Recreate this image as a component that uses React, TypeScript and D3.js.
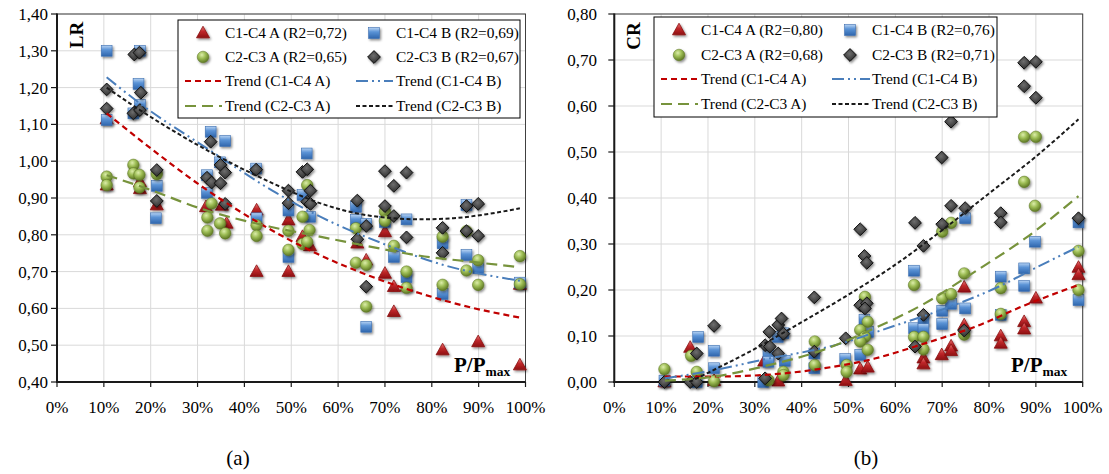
import React from 'react';
import * as d3 from 'd3';

type Pt = [number, number];

const xTickValues = [0, 10, 20, 30, 40, 50, 60, 70, 80, 90, 100];
const lrTickValues = [0.4, 0.5, 0.6, 0.7, 0.8, 0.9, 1.0, 1.1, 1.2, 1.3, 1.4];
const crTickValues = [0, 0.1, 0.2, 0.3, 0.4, 0.5, 0.6, 0.7, 0.8];

// ---------- LR panel (a) ----------
const lrC1C4A: Pt[] = [
  [10.6, 1.115], [10.6, 0.935], [17.7, 0.944], [17.7, 0.925], [21.3, 0.881], [31.8, 0.876], [35.2, 0.88],
  [36.2, 0.831], [42.6, 0.867], [42.6, 0.70], [49.4, 0.84], [49.4, 0.70], [52.4, 0.795], [54.0, 0.77],
  [64.1, 0.777], [66.0, 0.731], [70.0, 0.808], [70.0, 0.695], [71.9, 0.659], [71.9, 0.591], [74.6, 0.66],
  [82.3, 0.487], [89.9, 0.509], [98.8, 0.665], [98.8, 0.446],
];
const lrC1C4B: Pt[] = [
  [10.6, 1.30], [17.7, 1.30], [17.4, 1.21], [10.6, 1.112], [16.3, 1.13], [17.7, 1.153], [21.3, 0.933],
  [21.1, 0.845], [32.8, 1.08], [35.9, 1.055], [34.8, 0.997], [32.0, 0.962], [32.0, 0.914], [42.5, 0.98],
  [42.6, 0.845], [49.4, 0.866], [49.4, 0.74], [53.3, 1.021], [52.4, 0.908], [54.0, 0.849], [63.8, 0.876],
  [63.8, 0.84], [66.0, 0.83], [66.0, 0.55], [70.0, 0.835], [71.9, 0.74], [74.6, 0.842], [74.6, 0.685],
  [82.3, 0.777], [82.3, 0.639], [87.4, 0.881], [87.4, 0.745], [89.9, 0.709], [98.8, 0.67],
];
const lrC2C3A: Pt[] = [
  [10.6, 0.958], [10.6, 0.935], [16.3, 0.99], [16.3, 0.967], [17.6, 0.963], [17.6, 0.929], [21.3, 0.965],
  [33.0, 0.885], [32.1, 0.847], [32.1, 0.811], [34.8, 0.831], [35.9, 0.804], [42.6, 0.826], [42.6, 0.797],
  [49.4, 0.811], [49.4, 0.759], [52.4, 0.849], [53.4, 0.935], [53.9, 0.813], [52.4, 0.775], [53.4, 0.781],
  [63.8, 0.818], [63.8, 0.724], [66.0, 0.718], [66.0, 0.605], [70.0, 0.863], [70.0, 0.838], [71.9, 0.77],
  [74.6, 0.70], [74.6, 0.656], [82.3, 0.795], [82.3, 0.664], [87.4, 0.81], [87.4, 0.703], [89.9, 0.731],
  [89.9, 0.664], [98.8, 0.742], [98.8, 0.666],
];
const lrC2C3B: Pt[] = [
  [16.5, 1.29], [17.6, 1.295], [17.9, 1.186], [10.6, 1.195], [10.6, 1.143], [16.3, 1.13], [17.7, 1.139],
  [21.3, 0.976], [21.3, 0.892], [32.8, 1.053], [34.9, 0.99], [35.9, 0.969], [32.0, 0.955], [33.0, 0.942],
  [34.9, 0.94], [35.9, 0.884], [42.5, 0.977], [49.4, 0.92], [49.4, 0.886], [52.4, 0.971], [53.4, 0.978],
  [54.1, 0.92], [53.4, 0.89], [54.1, 0.884], [64.1, 0.893], [64.1, 0.788], [66.0, 0.824], [66.0, 0.659],
  [70.0, 0.973], [74.6, 0.969], [71.9, 0.933], [70.0, 0.878], [71.9, 0.851], [74.6, 0.793], [82.3, 0.819],
  [82.3, 0.751], [87.4, 0.878], [89.9, 0.884], [87.4, 0.81], [89.9, 0.797],
];
const lrTrendC1C4A: Pt[] = [[10.6, 1.13], [20, 1.035], [30.5, 0.935], [42.6, 0.836], [56.1, 0.745], [66.8, 0.688], [77.5, 0.641], [88.2, 0.603], [98.8, 0.575]];
const lrTrendC1C4B: Pt[] = [[10.6, 1.228], [17.7, 1.157], [32, 1.035], [46.9, 0.913], [55.4, 0.854], [70.4, 0.772], [82.5, 0.718], [98.8, 0.675]];
const lrTrendC2C3A: Pt[] = [[10.6, 0.962], [19.1, 0.926], [30.5, 0.872], [45.5, 0.822], [56.1, 0.795], [66.8, 0.768], [77.5, 0.743], [88.2, 0.727], [98.8, 0.712]];
const lrTrendC2C3B: Pt[] = [[10.6, 1.20], [17.7, 1.139], [32, 1.03], [46.9, 0.935], [56.1, 0.886], [66.8, 0.852], [77.5, 0.842], [84.6, 0.845], [91.7, 0.856], [98.8, 0.872]];

// ---------- CR panel (b) ----------
const crC1C4A: Pt[] = [
  [10.7, 0.0], [16.2, 0.075], [21.3, 0.003], [32.0, 0.045], [35.0, 0.002], [49.4, 0.003], [52.5, 0.028],
  [54.1, 0.032], [66.0, 0.052], [66.0, 0.039], [69.9, 0.059], [71.9, 0.078], [71.9, 0.068], [74.7, 0.124],
  [74.7, 0.206], [82.5, 0.10], [82.5, 0.084], [87.5, 0.131], [87.5, 0.115], [90.0, 0.182], [99.1, 0.249],
  [99.1, 0.233],
];
const crC1C4B: Pt[] = [
  [10.7, 0.003], [17.9, 0.098], [17.6, 0.0], [21.3, 0.068], [21.3, 0.03], [31.8, 0.0], [32.9, 0.059],
  [32.9, 0.044], [34.9, 0.098], [36.1, 0.106], [36.4, 0.046], [42.7, 0.062], [42.7, 0.03], [49.3, 0.05],
  [52.5, 0.059], [53.4, 0.135], [54.2, 0.109], [64.0, 0.242], [64.0, 0.117], [66.0, 0.136], [66.0, 0.115],
  [70.0, 0.155], [70.0, 0.126], [71.9, 0.17], [74.9, 0.356], [74.9, 0.16], [82.5, 0.229], [82.5, 0.146],
  [87.5, 0.247], [87.5, 0.209], [89.8, 0.305], [99.1, 0.347], [99.1, 0.178],
];
const crC2C3A: Pt[] = [
  [10.7, 0.028], [16.4, 0.057], [17.6, 0.022], [21.3, 0.002], [32.9, 0.004], [36.1, 0.022], [36.1, 0.015],
  [42.8, 0.088], [42.8, 0.037], [49.6, 0.037], [49.6, 0.022], [53.5, 0.185], [54.1, 0.131], [52.5, 0.113],
  [53.5, 0.098], [52.5, 0.088], [54.1, 0.07], [64.0, 0.211], [64.0, 0.098], [66.0, 0.098], [66.0, 0.071],
  [70.0, 0.327], [71.9, 0.346], [70.0, 0.182], [71.9, 0.191], [74.7, 0.236], [74.7, 0.103], [82.5, 0.204],
  [82.5, 0.148], [87.5, 0.533], [90.0, 0.533], [87.5, 0.435], [89.8, 0.383], [99.1, 0.285], [99.1, 0.2],
];
const crC2C3B: Pt[] = [
  [10.7, 0.0], [16.2, 0.0], [17.6, 0.062], [17.6, 0.0], [21.3, 0.122], [32.2, 0.08], [33.2, 0.077],
  [33.1, 0.109], [35.0, 0.124], [35.7, 0.138], [36.1, 0.105], [35.0, 0.062], [32.2, 0.008], [42.7, 0.184],
  [42.7, 0.066], [49.4, 0.095], [52.5, 0.332], [53.4, 0.274], [53.9, 0.259], [52.5, 0.167], [53.9, 0.171],
  [53.5, 0.16], [64.2, 0.346], [66.0, 0.296], [66.0, 0.146], [64.2, 0.077], [70.0, 0.343], [69.9, 0.488],
  [71.9, 0.566], [71.9, 0.383], [74.9, 0.378], [74.7, 0.112], [82.5, 0.367], [82.5, 0.347], [87.5, 0.694],
  [90.0, 0.696], [87.5, 0.643], [90.0, 0.618], [99.1, 0.356],
];
const crTrendC1C4A: Pt[] = [[10.8, 0.012], [21.5, 0.012], [31.5, 0.015], [44.9, 0.03], [55.6, 0.051], [66.3, 0.084], [77, 0.12], [87.7, 0.167], [99.1, 0.211]];
const crTrendC1C4B: Pt[] = [[10.8, 0.008], [21.5, 0.026], [31.5, 0.048], [47.1, 0.08], [59.2, 0.12], [69.9, 0.157], [82, 0.207], [90.5, 0.251], [99.1, 0.294]];
const crTrendC2C3A: Pt[] = [[10.8, 0.003], [21.5, 0.012], [31.5, 0.033], [44.9, 0.071], [55.6, 0.117], [66.3, 0.171], [77, 0.24], [87.7, 0.312], [99.1, 0.404]];
const crTrendC2C3B: Pt[] = [[16, 0.0], [20, 0.02], [30, 0.072], [40, 0.13], [50, 0.19], [60, 0.255], [70, 0.33], [80, 0.41], [90, 0.49], [99.1, 0.571]];

const lrLegendLabels = ['C1-C4 A (R2=0,72)', 'C1-C4 B (R2=0,69)', 'C2-C3 A (R2=0,65)', 'C2-C3 B (R2=0,67)'];
const crLegendLabels = ['C1-C4 A (R2=0,80)', 'C1-C4 B (R2=0,76)', 'C2-C3 A (R2=0,68)', 'C2-C3 B (R2=0,71)'];
const trendLabels = ['Trend (C1-C4 A)', 'Trend (C1-C4 B)', 'Trend (C2-C3 A)', 'Trend (C2-C3 B)'];

const FONT = '"Liberation Serif", "Times New Roman", serif';

type Kind = 'tri' | 'sq' | 'cir' | 'dia';
const KINDS: Kind[] = ['tri', 'sq', 'cir', 'dia'];

const TREND_STYLES = [
  { stroke: '#c00000', width: 2.2, dash: '6,4' },
  { stroke: '#4a7ebb', width: 2, dash: '12,4,2,4,2,4' },
  { stroke: '#77933c', width: 2.2, dash: '11,6' },
  { stroke: '#1a1a1a', width: 2, dash: '4,2.5' },
];

function Marker({ kind, x, y, p }: { kind: Kind; x: number; y: number; p: string }) {
  const t = `translate(${x},${y})`;
  if (kind === 'tri')
    return <path d="M0,-6.8L6.5,4.8L-6.5,4.8Z" transform={t} fill={`url(#${p}gTri)`} stroke="#8a1010" strokeWidth={0.8} filter={`url(#${p}sh)`} />;
  if (kind === 'sq')
    return <rect x={-5.4} y={-5.4} width={10.8} height={10.8} transform={t} fill={`url(#${p}gSq)`} stroke="#3a6db0" strokeWidth={0.6} filter={`url(#${p}sh)`} />;
  if (kind === 'cir')
    return <circle r={5.8} transform={t} fill={`url(#${p}gCir)`} stroke="#5c7424" strokeWidth={0.5} filter={`url(#${p}sh)`} />;
  return <path d="M0,-6.4L6.4,0L0,6.4L-6.4,0Z" transform={t} fill={`url(#${p}gDia)`} stroke="#111" strokeWidth={1} filter={`url(#${p}sh)`} />;
}

function Defs({ p }: { p: string }) {
  return (
    <defs>
      <filter id={`${p}sh`} x="-50%" y="-50%" width="200%" height="200%">
        <feDropShadow dx={1.3} dy={1.6} stdDeviation={0.9} floodColor="#000" floodOpacity={0.45} />
      </filter>
      <linearGradient id={`${p}gTri`} x1="0" y1="0" x2="0" y2="1">
        <stop offset="0%" stopColor="#e87a7a" />
        <stop offset="45%" stopColor="#c0282a" />
        <stop offset="100%" stopColor="#8e0f12" />
      </linearGradient>
      <linearGradient id={`${p}gSq`} x1="0" y1="0" x2="0" y2="1">
        <stop offset="0%" stopColor="#b7d3f3" />
        <stop offset="40%" stopColor="#5b93d6" />
        <stop offset="100%" stopColor="#2f66ad" />
      </linearGradient>
      <radialGradient id={`${p}gCir`} cx="40%" cy="32%" r="70%">
        <stop offset="0%" stopColor="#dcedaa" />
        <stop offset="45%" stopColor="#9dbd55" />
        <stop offset="100%" stopColor="#5a7420" />
      </radialGradient>
      <radialGradient id={`${p}gDia`} cx="45%" cy="40%" r="65%">
        <stop offset="0%" stopColor="#6e6e6e" />
        <stop offset="100%" stopColor="#262626" />
      </radialGradient>
    </defs>
  );
}

interface PanelCfg {
  p: string;
  x0: number; x1: number; yTop: number; yBot: number;
  yDomain: [number, number];
  yTicks: number[];
  yLabelRight: number;
  tickLen: number;
  series: Pt[][];
  trends: Pt[][];
  legendLabels: string[];
  legendBox: { x: number; y: number; w: number; h: number };
  rows: number[];
  col1: { marker: number; text: number; line: [number, number] };
  col2: { marker: number; text: number; line: [number, number] };
  axisName: string;
  axisNamePos: [number, number];
  pmaxPos: [number, number];
  caption: string;
  captionX: number;
}

const LEG_FS = 15.4;
const TICK_FS = 17;

function Panel({ c }: { c: PanelCfg }) {
  const xs = d3.scaleLinear().domain([0, 100]).range([c.x0, c.x1]);
  const ys = d3.scaleLinear().domain(c.yDomain).range([c.yBot, c.yTop]);
  const line = d3.line<Pt>().x((d) => xs(d[0])).y((d) => ys(d[1])).curve(d3.curveMonotoneX);
  const fmt = (v: number) => d3.format('.2f')(v).replace('.', ',');
  const clipId = `${c.p}clip`;
  const lb = c.legendBox;
  const legendItem = (i: number) => {
    const col = i % 2 === 0 ? c.col1 : c.col2;
    const row = c.rows[Math.floor(i / 2)];
    return (
      <g key={`lm${i}`}>
        <Marker kind={KINDS[i]} x={col.marker} y={row} p={c.p} />
        <text x={col.text} y={row} dy="0.35em" fontSize={LEG_FS} fontFamily={FONT} fill="#000">{c.legendLabels[i]}</text>
      </g>
    );
  };
  const legendTrend = (i: number) => {
    const col = i % 2 === 0 ? c.col1 : c.col2;
    const row = c.rows[2 + Math.floor(i / 2)];
    const st = TREND_STYLES[i];
    return (
      <g key={`lt${i}`}>
        <line x1={col.line[0]} x2={col.line[1]} y1={row} y2={row} stroke={st.stroke} strokeWidth={st.width} strokeDasharray={st.dash} />
        <text x={col.text} y={row} dy="0.35em" fontSize={LEG_FS} fontFamily={FONT} fill="#000">{trendLabels[i]}</text>
      </g>
    );
  };
  return (
    <g>
      <Defs p={c.p} />
      <clipPath id={clipId}>
        <rect x={c.x0} y={c.yTop} width={c.x1 - c.x0} height={c.yBot - c.yTop} />
      </clipPath>
      {xTickValues.map((v) => (
        <line key={`gx${v}`} x1={xs(v)} x2={xs(v)} y1={c.yTop} y2={c.yBot} stroke="#d9d9d9" strokeWidth={1} />
      ))}
      {c.yTicks.map((v) => (
        <line key={`gy${v}`} x1={c.x0} x2={c.x1} y1={ys(v)} y2={ys(v)} stroke="#d9d9d9" strokeWidth={1} />
      ))}
      <rect x={c.x0} y={c.yTop} width={c.x1 - c.x0} height={c.yBot - c.yTop} fill="none" stroke="#404040" strokeWidth={1} />
      <line x1={c.x0} x2={c.x0} y1={c.yTop - 0.5} y2={c.yBot + 1} stroke="#1a1a1a" strokeWidth={2} />
      <line x1={c.x0 - 1} x2={c.x1} y1={c.yBot} y2={c.yBot} stroke="#1a1a1a" strokeWidth={2} />
      {c.yTicks.map((v) => (
        <g key={`ty${v}`}>
          <line x1={c.x0 - c.tickLen} x2={c.x0} y1={ys(v)} y2={ys(v)} stroke="#1a1a1a" strokeWidth={1.2} />
          <text x={c.yLabelRight} y={ys(v)} dy="0.35em" textAnchor="end" fontSize={TICK_FS} fontFamily={FONT} fill="#000">{fmt(v)}</text>
        </g>
      ))}
      {xTickValues.map((v) => (
        <g key={`tx${v}`}>
          <line x1={xs(v)} x2={xs(v)} y1={c.yBot} y2={c.yBot + 5} stroke="#1a1a1a" strokeWidth={1.2} />
          <text x={xs(v)} y={c.yBot + 31} textAnchor="middle" fontSize={TICK_FS} fontFamily={FONT} fill="#000">{`${v}%`}</text>
        </g>
      ))}
      {c.series.map((s, si) => (
        <g key={`s${si}`}>
          {s.map((d, i) => (
            <Marker key={i} kind={KINDS[si]} x={xs(d[0])} y={ys(Math.max(c.yDomain[0], d[1]))} p={c.p} />
          ))}
        </g>
      ))}
      <g clipPath={`url(#${clipId})`}>
        {c.trends.map((t, i) => (
          <path key={`tr${i}`} d={line(t) || ''} fill="none" stroke={TREND_STYLES[i].stroke} strokeWidth={TREND_STYLES[i].width} strokeDasharray={TREND_STYLES[i].dash} />
        ))}
      </g>
      <rect x={lb.x} y={lb.y} width={lb.w} height={lb.h} fill="#fff" stroke="#000" strokeWidth={1} />
      {[0, 1, 2, 3].map(legendItem)}
      {[0, 1, 2, 3].map(legendTrend)}
      <text transform={`translate(${c.axisNamePos[0]},${c.axisNamePos[1]}) rotate(-90)`} textAnchor="middle" fontSize={19} fontWeight="bold" fontFamily={FONT} fill="#000">{c.axisName}</text>
      <text x={c.pmaxPos[0]} y={c.pmaxPos[1]} fontSize={21} fontWeight="bold" fontFamily={FONT} fill="#000">
        P/P<tspan fontSize={13.5} dy={4}>max</tspan>
      </text>
      <text x={c.captionX} y={465} textAnchor="middle" fontSize={21} fontFamily={FONT} fill="#000">{c.caption}</text>
    </g>
  );
}

const lrCfg: PanelCfg = {
  p: 'a',
  x0: 57, x1: 525.5, yTop: 14, yBot: 382,
  yDomain: [0.4, 1.4],
  yTicks: lrTickValues,
  yLabelRight: 48,
  tickLen: 6,
  series: [lrC1C4A, lrC1C4B, lrC2C3A, lrC2C3B],
  trends: [lrTrendC1C4A, lrTrendC1C4B, lrTrendC2C3A, lrTrendC2C3B],
  legendLabels: lrLegendLabels,
  legendBox: { x: 178, y: 20, w: 342, h: 98 },
  rows: [33, 57, 81, 106],
  col1: { marker: 203, text: 225, line: [185, 222] },
  col2: { marker: 374, text: 396, line: [356, 393] },
  axisName: 'LR',
  axisNamePos: [83, 35],
  pmaxPos: [454, 372],
  caption: '(a)',
  captionX: 238,
};

const crCfg: PanelCfg = {
  p: 'b',
  x0: 614.3, x1: 1082.7, yTop: 14, yBot: 382,
  yDomain: [0, 0.8],
  yTicks: crTickValues,
  yLabelRight: 597,
  tickLen: 6,
  series: [crC1C4A, crC1C4B, crC2C3A, crC2C3B],
  trends: [crTrendC1C4A, crTrendC1C4B, crTrendC2C3A, crTrendC2C3B],
  legendLabels: crLegendLabels,
  legendBox: { x: 654, y: 17, w: 343, h: 100 },
  rows: [30, 55, 79, 104],
  col1: { marker: 679, text: 701, line: [661, 698] },
  col2: { marker: 850, text: 872, line: [832, 870] },
  axisName: 'CR',
  axisNamePos: [640, 36],
  pmaxPos: [1011, 372],
  caption: '(b)',
  captionX: 866,
};

export default function App() {
  return (
    <svg width={1109} height={474} style={{ position: 'absolute', left: 0, top: 0, background: '#fff' }}>
      <rect width={1109} height={474} fill="#fff" />
      <Panel c={lrCfg} />
      <Panel c={crCfg} />
    </svg>
  );
}
